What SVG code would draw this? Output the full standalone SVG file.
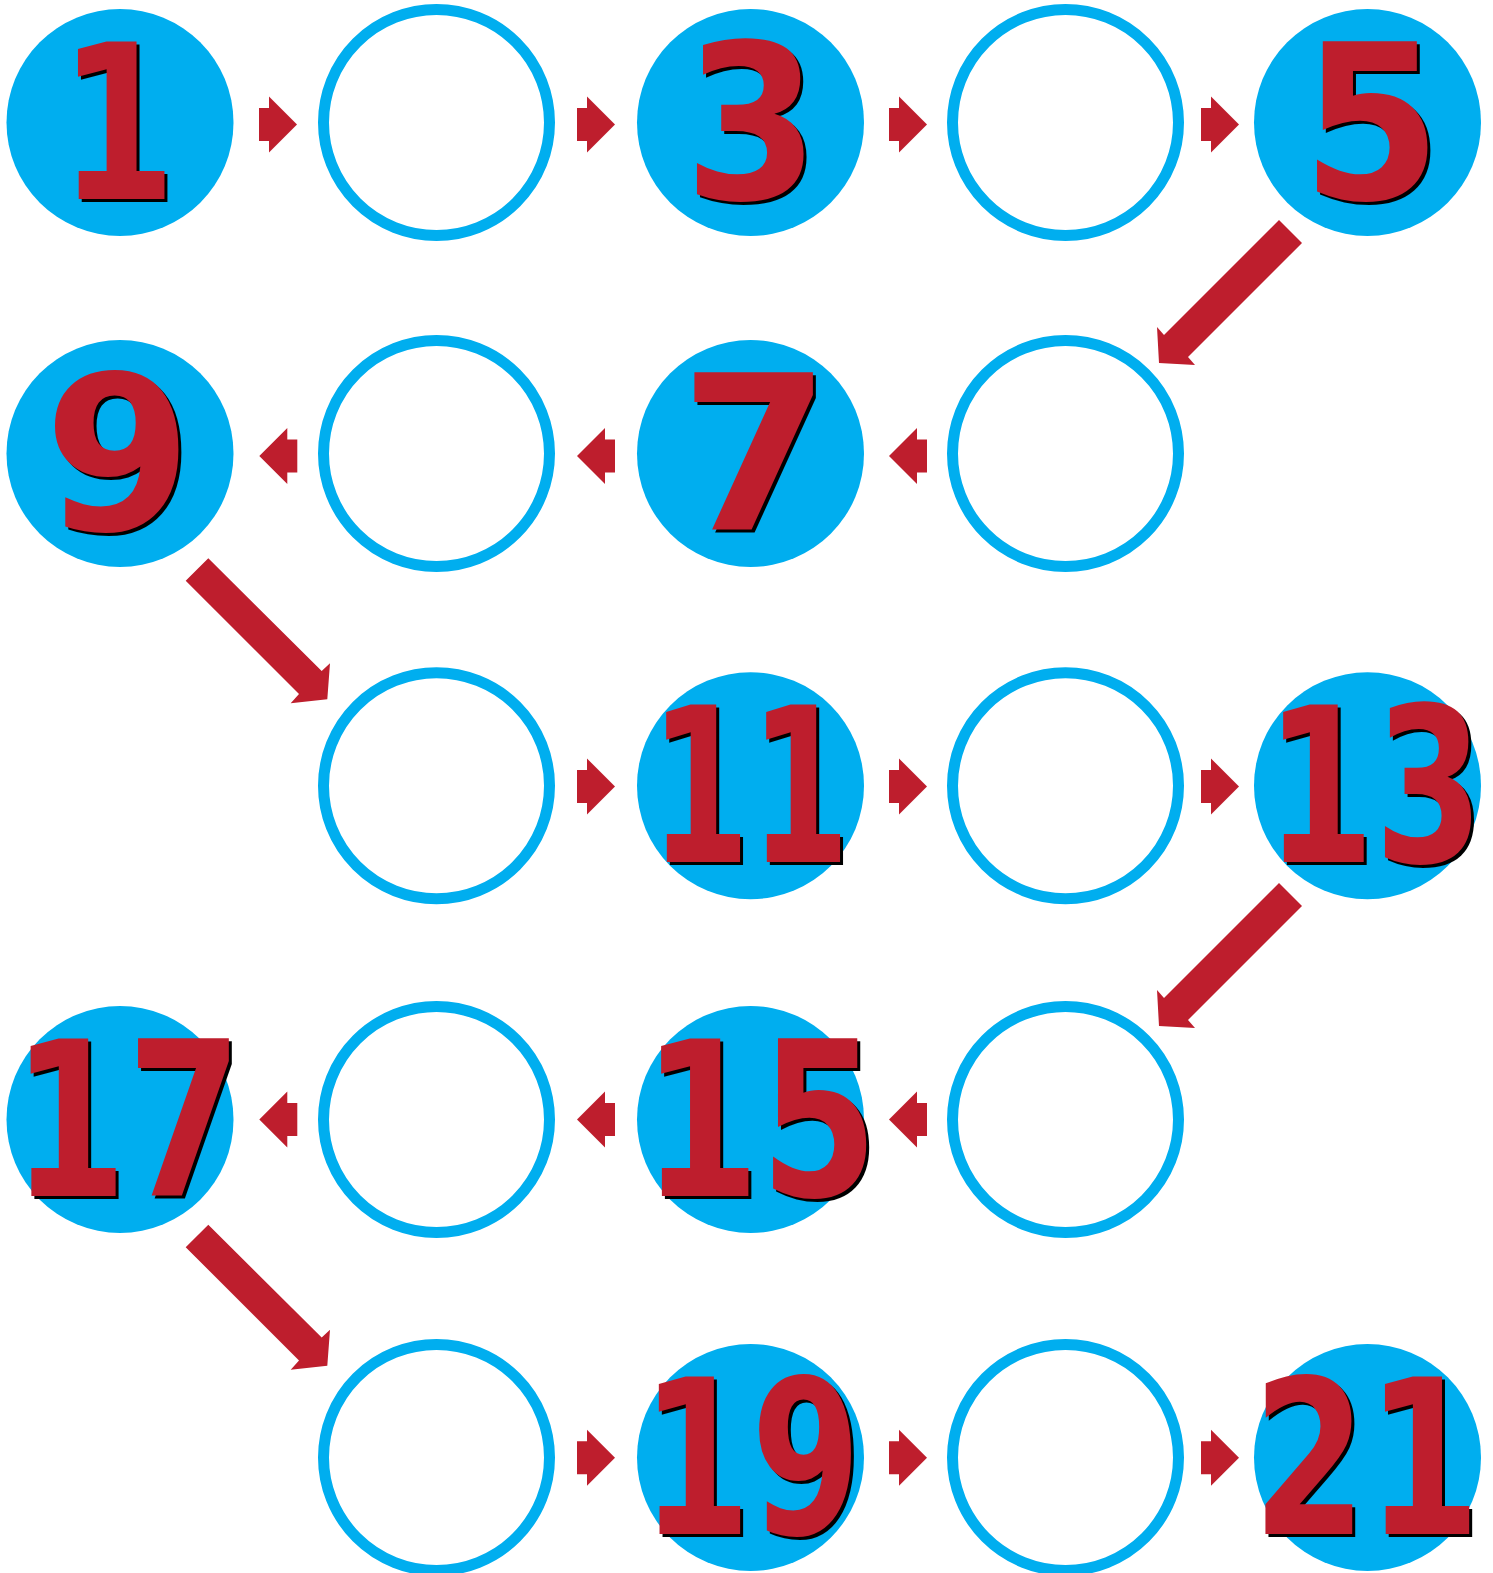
<svg xmlns="http://www.w3.org/2000/svg" width="1493" height="1573" viewBox="0 0 1493 1573">
<style>
.fill{fill:#00AEEF}
.ring{fill:#FFFFFF;stroke:#00AEEF;stroke-width:11}
.num{font-family:"DejaVu Sans","Liberation Sans",sans-serif;font-weight:bold;font-size:215px;text-anchor:middle}
.red{fill:#BE1E2D}
.sh{fill:#000000}
.arr{fill:#BE1E2D}
</style>
<defs>
<path id="ar" d="M-38,-16.5H-28V-28L0,0L-28,28V16.5H-38Z"/>
</defs>
<rect width="1493" height="1573" fill="#FFFFFF"/>
<g id="connectors" class="arr">
<use href="#ar" transform="translate(297,124.5)"/>
<use href="#ar" transform="translate(615,124.5)"/>
<use href="#ar" transform="translate(927,124.5)"/>
<use href="#ar" transform="translate(1239,124.5)"/>
<polygon points="1279,220 1302,243 1188,357 1195,365 1159,363 1157,327 1164,335"/>
<use href="#ar" transform="translate(259.3,456) scale(-1,1)"/>
<use href="#ar" transform="translate(577,456) scale(-1,1)"/>
<use href="#ar" transform="translate(889,456) scale(-1,1)"/>
<polygon points="208.3,558.3 321.7,671 330,663.3 327.3,699.3 290.7,703.3 299,694 185.7,580.7"/>
<use href="#ar" transform="translate(615,786.5)"/>
<use href="#ar" transform="translate(927,786.5)"/>
<use href="#ar" transform="translate(1239,786.5)"/>
<polygon points="1279,883 1302,906 1188,1020 1195,1028 1159,1026 1157,990 1164,998"/>
<use href="#ar" transform="translate(259.3,1119.5) scale(-1,1)"/>
<use href="#ar" transform="translate(577,1119.5) scale(-1,1)"/>
<use href="#ar" transform="translate(889,1119.5) scale(-1,1)"/>
<polygon points="208.3,1224.8 321.7,1337.5 330,1329.8 327.3,1365.8 290.7,1369.8 299,1360.5 185.7,1247.2"/>
<use href="#ar" transform="translate(615,1457.7)"/>
<use href="#ar" transform="translate(927,1457.7)"/>
<use href="#ar" transform="translate(1239,1457.7)"/>
</g>
<g id="n1"><circle class="fill" cx="120" cy="122.5" r="113.5"/><text class="num sh" x="120.5" y="201.5" textLength="117" lengthAdjust="spacingAndGlyphs">1</text><text class="num red" x="117.5" y="198.5" textLength="117" lengthAdjust="spacingAndGlyphs">1</text></g>
<g id="n2"><circle class="ring" cx="436.5" cy="122.5" r="113"/></g>
<g id="n3"><circle class="fill" cx="750.5" cy="122.5" r="113.5"/><text class="num sh" x="754.5" y="201.5" textLength="135" lengthAdjust="spacingAndGlyphs">3</text><text class="num red" x="751.5" y="198.5" textLength="135" lengthAdjust="spacingAndGlyphs">3</text></g>
<g id="n4"><circle class="ring" cx="1065.5" cy="122.5" r="113"/></g>
<g id="n5"><circle class="fill" cx="1367.5" cy="122.5" r="113.5"/><text class="num sh" x="1374.5" y="201.5" textLength="140" lengthAdjust="spacingAndGlyphs">5</text><text class="num red" x="1371.5" y="198.5" textLength="140" lengthAdjust="spacingAndGlyphs">5</text></g>
<g id="n6"><circle class="ring" cx="1065.5" cy="453.5" r="113"/></g>
<g id="n7"><circle class="fill" cx="750.5" cy="453.5" r="113.5"/><text class="num sh" x="758" y="532.5" textLength="150" lengthAdjust="spacingAndGlyphs">7</text><text class="num red" x="755" y="529.5" textLength="150" lengthAdjust="spacingAndGlyphs">7</text></g>
<g id="n8"><circle class="ring" cx="436.5" cy="453.5" r="113"/></g>
<g id="n9"><circle class="fill" cx="120" cy="453.5" r="113.5"/><text class="num sh" x="121" y="532.5" textLength="148" lengthAdjust="spacingAndGlyphs">9</text><text class="num red" x="118" y="529.5" textLength="148" lengthAdjust="spacingAndGlyphs">9</text></g>
<g id="n10"><circle class="ring" cx="436.5" cy="785.7" r="113"/></g>
<g id="n11"><circle class="fill" cx="750.5" cy="785.7" r="113.5"/><text class="num sh" x="753" y="865" textLength="200" lengthAdjust="spacingAndGlyphs">11</text><text class="num red" x="750" y="862" textLength="200" lengthAdjust="spacingAndGlyphs">11</text></g>
<g id="n12"><circle class="ring" cx="1065.5" cy="785.7" r="113"/></g>
<g id="n13"><circle class="fill" cx="1367.5" cy="785.7" r="113.5"/><text class="num sh" x="1377.5" y="865" textLength="218" lengthAdjust="spacingAndGlyphs">13</text><text class="num red" x="1374.5" y="862" textLength="218" lengthAdjust="spacingAndGlyphs">13</text></g>
<g id="n14"><circle class="ring" cx="1065.5" cy="1119.5" r="113"/></g>
<g id="n15"><circle class="fill" cx="750.5" cy="1119.5" r="113.5"/><text class="num sh" x="763" y="1198.5" textLength="236" lengthAdjust="spacingAndGlyphs">15</text><text class="num red" x="760" y="1195.5" textLength="236" lengthAdjust="spacingAndGlyphs">15</text></g>
<g id="n16"><circle class="ring" cx="436.5" cy="1119.5" r="113"/></g>
<g id="n17"><circle class="fill" cx="120" cy="1119.5" r="113.5"/><text class="num sh" x="130" y="1198.5" textLength="230" lengthAdjust="spacingAndGlyphs">17</text><text class="num red" x="127" y="1195.5" textLength="230" lengthAdjust="spacingAndGlyphs">17</text></g>
<g id="n18"><circle class="ring" cx="436.5" cy="1457.5" r="113"/></g>
<g id="n19"><circle class="fill" cx="750.5" cy="1457.5" r="113.5"/><text class="num sh" x="754" y="1536.5" textLength="220" lengthAdjust="spacingAndGlyphs">19</text><text class="num red" x="751" y="1533.5" textLength="220" lengthAdjust="spacingAndGlyphs">19</text></g>
<g id="n20"><circle class="ring" cx="1065.5" cy="1457.5" r="113"/></g>
<g id="n21"><circle class="fill" cx="1367.5" cy="1457.5" r="113.5"/><text class="num sh" x="1369.5" y="1536.5" textLength="228" lengthAdjust="spacingAndGlyphs">21</text><text class="num red" x="1366.5" y="1533.5" textLength="228" lengthAdjust="spacingAndGlyphs">21</text></g>
</svg>
